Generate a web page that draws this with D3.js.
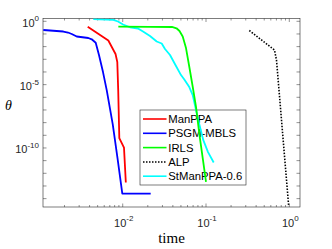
<!DOCTYPE html>
<html>
<head>
<meta charset="utf-8">
<script src="https://cdn.jsdelivr.net/npm/d3@7"></script>
<style>
    body { margin: 0; background: #fff; }
    svg { display: block; }
    .tick-label { font-family: "Liberation Sans", Arial, sans-serif; font-size: 11px; fill: #262626; }
    .legend-label { font-family: "Liberation Sans", Arial, sans-serif; font-size: 11.3px; fill: #000; }
</style>
</head>
<body>
<svg id="chart-svg" width="332" height="249"></svg>
<script>
// Convergence curves: theta vs. time (log-log)
const manppaTime = [0.0038, 0.00672, 0.0082, 0.00861, 0.00883, 0.00903, 0.0091, 0.01036, 0.0109];
const manppaTheta = [0.374, 0.0304, 2.6e-3, 6.1e-4, 3.7e-6, 6.3e-9, 6e-10, 1.06e-10, 1.9e-13];

const psgmTime = [0.001114, 0.001936, 0.002203, 0.002443, 0.002806, 0.003864, 0.004246, 0.004742,
    0.005189, 0.0058, 0.006427, 0.007586, 0.00866, 0.00989, 0.02168];
const psgmTheta = [0.205, 0.156, 0.13, 0.099, 0.063, 0.048, 0.0378, 0.0203,
    2.17e-3, 9.8e-5, 3.7e-6, 7.6e-9, 1.56e-11, 2.5e-14, 2.5e-14];

const irlsTime = [0.00886, 0.02127, 0.03906, 0.04425, 0.04807, 0.05253, 0.05753, 0.063,
    0.06925, 0.07586, 0.08356, 0.09204, 0.1];
const irlsTheta = [0.374, 0.367, 0.355, 0.28, 0.171, 0.0629, 7.7e-3, 2.58e-4,
    6.8e-6, 1.77e-7, 1.03e-9, 1.08e-11, 2.1e-13];

const alpTime = [0.331, 0.6643, 0.7019, 0.9835];
const alpTheta = [0.1875, 5.4e-3, 8.7e-4, 2.5e-15];

const stmanTime = [0.004434, 0.007712, 0.008782, 0.01008, 0.01224, 0.01527, 0.01753, 0.02127,
    0.02559, 0.02939, 0.0322, 0.03697, 0.04363, 0.0501, 0.05489, 0.063, 0.06925, 0.07586,
    0.0831, 0.09281, 0.1057, 0.1237];
const stmanTheta = [1.47, 1.27, 0.964, 0.558, 0.336, 0.27, 0.156, 0.0689,
    0.0253, 0.0176, 6.46e-3, 2.17e-3, 2.93e-4, 5.68e-5, 2.51e-5, 6.4e-6, 1.49e-6, 9.7e-8,
    7.6e-9, 4.1e-10, 4.7e-11, 7.1e-12];

const seriesNames = ["ManPPA", "PSGM-MBLS", "IRLS", "ALP", "StManPPA-0.6"];
const seriesColors = ["#ff0000", "#0000ff", "#00ff00", "#000000", "#00ffff"];

const xTickValues = [1e-2, 1e-1, 1e0];
const yTickValues = [1e0, 1e-5, 1e-10];

class ConvergencePlot
{
    constructor(svgId)
    {
        this.svg = d3.select(svgId);
        this.left = 43;
        this.right = 300;
        this.top = 18.5;
        this.bottom = 207;

        this.x = d3.scaleLog().domain([Math.pow(10, -2.957), Math.pow(10, 0.1285)]).range([this.left, this.right]);
        this.y = d3.scaleLog().domain([Math.pow(10, -14.66), Math.pow(10, 0.22)]).range([this.bottom, this.top]);

        this.series = [
            {time: manppaTime, theta: manppaTheta},
            {time: psgmTime, theta: psgmTheta},
            {time: irlsTime, theta: irlsTheta},
            {time: alpTime, theta: alpTheta},
            {time: stmanTime, theta: stmanTheta}
        ].map((s, i) => ({
            name: seriesNames[i],
            color: seriesColors[i],
            dotted: seriesNames[i] === "ALP",
            points: s.time.map((t, j) => [t, s.theta[j]])
        }));
    }

    draw()
    {
        this.svg.append("rect")
            .attr("width", 332).attr("height", 249).attr("fill", "#fff");

        this.svg.append("defs").append("clipPath")
            .attr("id", "plot-clip")
            .append("rect")
            .attr("x", this.left).attr("y", this.top)
            .attr("width", this.right - this.left).attr("height", this.bottom - this.top);

        this.drawAxes();
        this.drawLegend();
        this.drawLines();
    }

    drawLines()
    {
        const line = d3.line()
            .x(d => this.x(d[0]))
            .y(d => this.y(d[1]));

        // ALP first so the solid curves sit on top
        const order = [3, 4, 2, 0, 1];

        this.svg.append("g")
            .attr("clip-path", "url(#plot-clip)")
            .selectAll("path")
            .data(order.map(i => this.series[i]))
            .join("path")
            .attr("d", d => line(d.points))
            .attr("fill", "none")
            .attr("stroke", d => d.color)
            .attr("stroke-width", d => d.dotted ? 1.6 : 1.8)
            .attr("stroke-dasharray", d => d.dotted ? "1.5,1.5" : null)
            .attr("stroke-linejoin", "round");
    }

    drawAxes()
    {
        const axisColor = "#262626";
        const g = this.svg.append("g");

        // x ticks: decades plus minor 2..9, on bottom and top
        const xTicks = [];
        for (let k = -3; k <= 0; k++)
        {
            for (let m = 1; m <= 9; m++)
            {
                const v = m * Math.pow(10, k);
                const [d0, d1] = this.x.domain();
                if (v >= d0 && v <= d1) xTicks.push({v: v, major: m === 1});
            }
        }

        g.selectAll(".xtick")
            .data(xTicks)
            .join("path")
            .attr("d", d => {
                const px = this.x(d.v);
                const len = d.major ? 3.5 : 2;
                return `M${px},${this.bottom}v${-len}M${px},${this.top}v${len}`;
            })
            .attr("stroke", axisColor)
            .attr("stroke-width", 0.5);

        // y ticks at every decade, on left and right
        const yTicks = d3.range(-14, 1).map(k => Math.pow(10, k));

        g.selectAll(".ytick")
            .data(yTicks)
            .join("path")
            .attr("d", d => {
                const py = this.y(d);
                return `M${this.left},${py}h3.5M${this.right},${py}h-3.5`;
            })
            .attr("stroke", axisColor)
            .attr("stroke-width", 0.5);

        g.append("rect")
            .attr("x", this.left).attr("y", this.top)
            .attr("width", this.right - this.left).attr("height", this.bottom - this.top)
            .attr("fill", "none")
            .attr("stroke", axisColor)
            .attr("stroke-width", 0.6);

        const exponent = v => Math.round(Math.log10(v));

        const xLabels = g.selectAll(".x-label")
            .data(xTickValues)
            .join("text")
            .attr("class", "tick-label")
            .attr("text-anchor", "middle")
            .attr("x", d => this.x(d) + 1)
            .attr("y", this.bottom + 19.5);
        xLabels.append("tspan").text("10");
        xLabels.append("tspan").attr("dy", -5.5).style("font-size", "8px").text(d => exponent(d));

        const yLabels = g.selectAll(".y-label")
            .data(yTickValues)
            .join("text")
            .attr("class", "tick-label")
            .attr("text-anchor", "end")
            .attr("x", this.left - 4)
            .attr("y", d => this.y(d) + 5.5);
        yLabels.append("tspan").text("10");
        yLabels.append("tspan").attr("dy", -5.5).style("font-size", "8px").text(d => exponent(d));

        this.svg.append("text")
            .attr("x", (this.left + this.right) / 2)
            .attr("y", 243)
            .attr("text-anchor", "middle")
            .style("font-family", "'Liberation Serif', 'Times New Roman', serif")
            .style("font-size", "15px")
            .text("time");

        this.svg.append("text")
            .attr("x", 8.5)
            .attr("y", 109.5)
            .attr("text-anchor", "middle")
            .style("font-family", "'Liberation Serif', 'Times New Roman', serif")
            .style("font-style", "italic")
            .style("font-size", "14px")
            .text("θ");
    }

    drawLegend()
    {
        const lx = 140, ly = 110, lw = 106, lh = 75, rowH = 14.3;

        const legend = this.svg.append("g").attr("id", "legend");

        // no fill: the curves show through the legend box
        legend.append("rect")
            .attr("x", lx).attr("y", ly)
            .attr("width", lw).attr("height", lh)
            .attr("fill", "none")
            .attr("stroke", "#262626")
            .attr("stroke-width", 0.6);

        const rows = legend.selectAll("g")
            .data(this.series)
            .join("g")
            .attr("transform", (d, i) => `translate(${lx},${ly + 9 + i * rowH})`);

        rows.append("line")
            .attr("x1", 3).attr("x2", 26.5)
            .attr("stroke", d => d.color)
            .attr("stroke-width", d => d.dotted ? 1.5 : 1.6)
            .attr("stroke-dasharray", d => d.dotted ? "1.5,1.5" : null);

        rows.append("text")
            .attr("class", "legend-label")
            .attr("x", 28.3)
            .attr("y", 4)
            .text(d => d.name);
    }
}

const plot = new ConvergencePlot("#chart-svg");
plot.draw();
</script>
</body>
</html>
